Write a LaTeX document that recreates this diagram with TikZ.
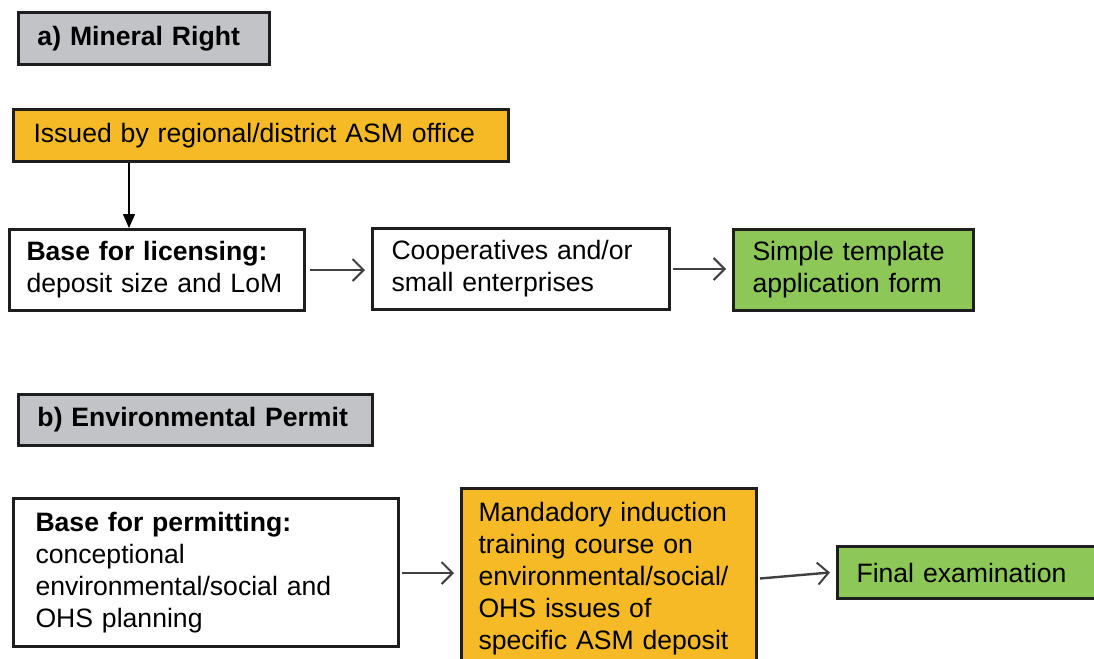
\documentclass[tikz,border=0pt]{standalone}
\usepackage{fontspec}
\setmainfont{Liberation Sans}
\usetikzlibrary{arrows.meta}
\definecolor{hgray}{HTML}{C2C3C7}
\definecolor{orng}{HTML}{F5BA25}
\definecolor{grn}{HTML}{8CC757}
\definecolor{edge}{HTML}{1E1E1E}
\tikzset{
  box/.style={draw=edge, line width=1.5pt, anchor=north west, align=left, inner ysep=0pt,
    font=\fontsize{13.3}{16}\selectfont},
  head/.style={box, fill=hgray, font=\fontsize{13.3}{16}\selectfont\bfseries},
  flow/.style={draw=edge!85, line width=1.2pt, -{Straight Barb[length=5.5pt,width=11pt,line width=1pt]}},
  down/.style={draw=black, line width=0.8pt, -{Triangle[length=7pt,width=6pt]}}
}
\newcommand{\bx}[8]{% name, style, x, y, w, h, pad, text
  \node[#2, minimum width=#5*0.5pt, minimum height=#6*0.5pt, text width=#5*0.5pt-2*#7*0.5pt, inner xsep=#7*0.5pt] (#1) at (#3,#4) {#8};}
\begin{document}
\begin{tikzpicture}[x=0.5pt,y=-0.5pt]
\useasboundingbox (0,0) rectangle (1094,659);
\begin{scope}
\clip (0,0) rectangle (1094,659);
\bx{ga}{head}{17}{11}{251}{52}{19}{a) Mineral Right}
\bx{iss}{box, fill=orng}{12}{108}{495}{52}{20}{Issued by regional/district ASM office}
\bx{lic}{box}{8}{228}{295}{81}{17}{\textbf{Base for licensing:}\\deposit size and LoM}
\bx{coop}{box}{371}{227}{297}{81}{19}{Cooperatives and/or\\small enterprises}
\bx{simp}{box, fill=grn}{732}{228}{240}{81}{19}{Simple template\\application form}
\bx{gb}{head}{17}{393}{354}{51}{19}{b) Environmental Permit}
\bx{perm}{box}{12}{497}{385}{148}{22}{\textbf{Base for permitting:}\\conceptional\\environmental/social and\\OHS planning}
\bx{mand}{box, fill=orng}{460}{487}{295}{180}{17}{Mandadory induction\\training course on\\environmental/social/\\OHS issues of\\specific ASM deposit}
\bx{fin}{box, fill=grn}{836}{545}{270}{52}{19}{Final examination}
\end{scope}
\coordinate (p1) at (129,0);
\coordinate (yb) at (0,573);
\draw[down] (iss.south -| p1) -- (lic.north -| p1);
\draw[flow] ([xshift=2pt]lic.east) -- ([xshift=-3pt]coop.west |- lic.east);
\draw[flow] ([xshift=1pt]coop.east) -- ([xshift=-3pt]simp.west |- coop.east);
\draw[flow] ([xshift=1pt]perm.east |- yb) -- ([xshift=-3pt]mand.west |- yb);
\draw[flow] ([xshift=1pt]mand.east) -- ([xshift=-3pt]fin.west);
\end{tikzpicture}
\end{document}
